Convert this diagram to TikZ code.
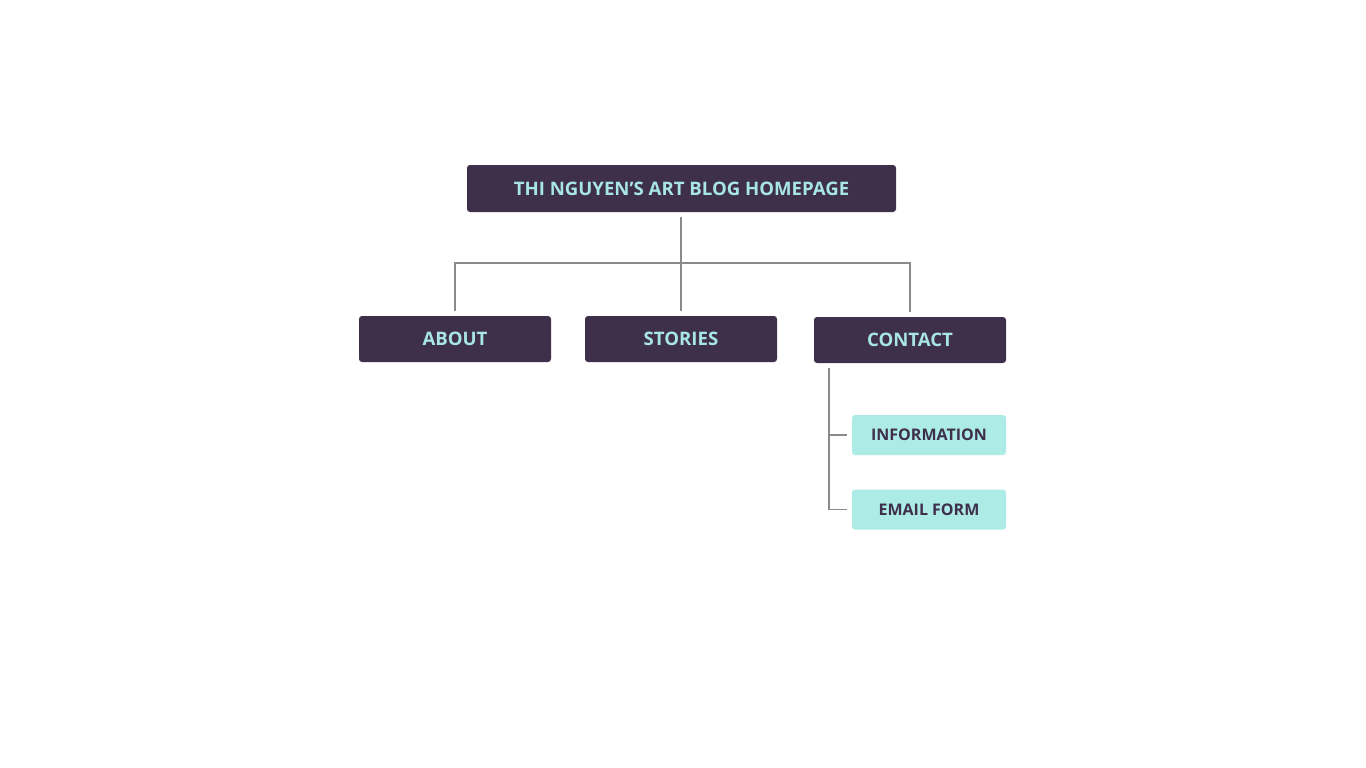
\documentclass[tikz,border=0pt]{standalone}
\usepackage{fontspec}
\setmainfont{Open Sans}
\definecolor{darkbox}{HTML}{3E2F4B}
\definecolor{cyantext}{HTML}{A8E6E4}
\definecolor{lightbox}{HTML}{ADEBE6}
\definecolor{linegray}{HTML}{8A8A8A}
\begin{document}
\begin{tikzpicture}[x=1pt,y=-1pt,
  darkn/.style={fill=darkbox,text=cyantext,rounded corners=3pt,inner sep=0pt,font=\bfseries\fontsize{18.6}{22}\selectfont},
  lightn/.style={fill=lightbox,text=darkbox,rounded corners=3pt,inner sep=0pt,minimum width=154pt,minimum height=40pt,font=\bfseries\fontsize{16}{19}\selectfont},
  conn/.style={draw=linegray,line width=1.6pt}]
\useasboundingbox (0,0) rectangle (1366,768);
\node[darkn,minimum width=429pt,minimum height=47pt] (home) at (681.5,188.5) {THI NGUYEN’S ART BLOG HOMEPAGE};
\node[darkn,minimum width=192pt,minimum height=46pt] (about) at (455,339) {ABOUT};
\node[darkn,minimum width=192pt,minimum height=46pt] (stories) at (681,339) {STORIES};
\node[darkn,minimum width=192pt,minimum height=46pt] (contact) at (910,340) {CONTACT};
\node[lightn] (info) at (929,435) {INFORMATION};
\node[lightn] (email) at (929,509.5) {EMAIL FORM};
\coordinate (hub) at (681,263);
\draw[conn] ([yshift=-5pt]home.south -| hub) -- ([yshift=5pt]stories.north -| hub);
\draw[conn] ([yshift=5pt]about.north) |- (hub) -| ([yshift=5pt]contact.north);
\coordinate (cstart) at ([xshift=-81pt,yshift=-5pt]contact.south);
\draw[conn] (cstart) |- ([xshift=-5pt]email.west);
\draw[conn] (cstart |- info.west) -- ([xshift=-5pt]info.west);
\end{tikzpicture}
\end{document}
